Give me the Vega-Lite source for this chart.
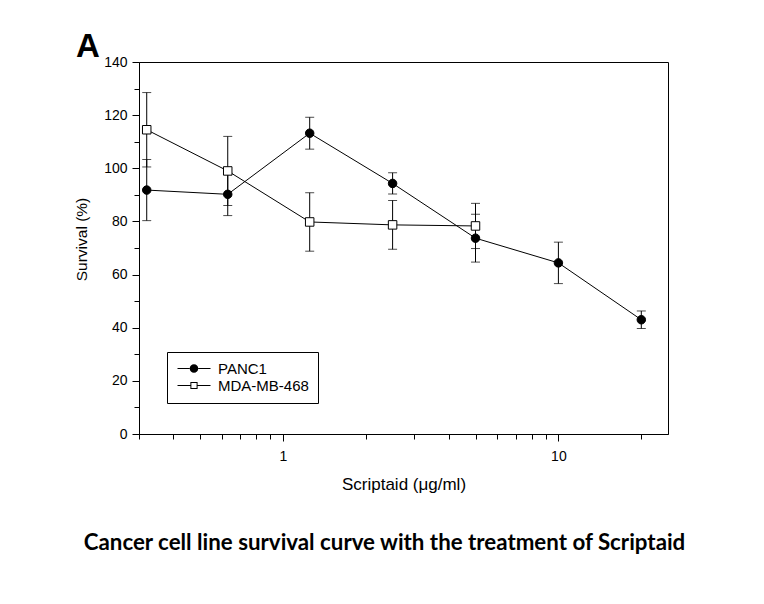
{
  "$schema": "https://vega.github.io/schema/vega-lite/v6.json",
  "width": 529,
  "height": 372,
  "autosize": {"type": "none"},
  "padding": {"left": 139, "top": 62, "right": 96, "bottom": 170},
  "background": "white",
  "title": {
    "text": "Cancer cell line survival curve with the treatment of Scriptaid",
    "orient": "bottom",
    "anchor": "middle",
    "font": "Lato",
    "fontSize": 22.3,
    "fontWeight": "bold",
    "color": "black",
    "offset": 40,
    "dx": -19
  },
  "data": {
    "values": [
      {"series": "PANC1", "conc": 0.32, "mean": 91.8, "err": 11.5},
      {"series": "PANC1", "conc": 0.63, "mean": 90.2, "err": 8},
      {"series": "PANC1", "conc": 1.25, "mean": 113.2, "err": 6},
      {"series": "PANC1", "conc": 2.5, "mean": 94.3, "err": 4},
      {"series": "PANC1", "conc": 5, "mean": 73.7, "err": 9},
      {"series": "PANC1", "conc": 10, "mean": 64.4, "err": 7.8},
      {"series": "PANC1", "conc": 20, "mean": 43, "err": 3.3},
      {"series": "MDA-MB-468", "conc": 0.32, "mean": 114.5, "err": 14},
      {"series": "MDA-MB-468", "conc": 0.63, "mean": 99, "err": 13},
      {"series": "MDA-MB-468", "conc": 1.25, "mean": 79.8, "err": 11},
      {"series": "MDA-MB-468", "conc": 2.5, "mean": 78.7, "err": 9.2},
      {"series": "MDA-MB-468", "conc": 5, "mean": 78.3, "err": 8.5}
    ]
  },
  "encoding": {
    "x": {
      "field": "conc",
      "type": "quantitative",
      "title": "Scriptaid (μg/ml)",
      "scale": {"type": "log", "domain": [0.3, 25], "nice": false},
      "axis": {
        "values": [0.3, 0.4, 0.5, 0.6, 0.7, 0.8, 0.9, 1, 2, 3, 4, 5, 6, 7, 8, 9, 10, 20],
        "labelExpr": "datum.value == 1 ? '1' : (datum.value == 10 ? '10' : '')",
        "tickSize": {"condition": {"test": "datum.value == 1 || datum.value == 10", "value": 7}, "value": 5},
        "labelPadding": 8,
        "titlePadding": 13,
        "titleFontSize": 17
      }
    },
    "y": {
      "field": "mean",
      "type": "quantitative",
      "title": "Survival (%)",
      "scale": {"domain": [0, 140], "nice": false},
      "axis": {
        "values": [0, 10, 20, 30, 40, 50, 60, 70, 80, 90, 100, 110, 120, 130, 140],
        "labelExpr": "datum.value % 20 == 0 ? datum.label : ''",
        "tickSize": {"condition": {"test": "datum.value % 20 == 0", "value": 7}, "value": 5},
        "labelPadding": 5,
        "titlePadding": 14,
        "titleFontSize": 15.5,
        "titleY": 177
      }
    }
  },
  "layer": [
    {
      "mark": {"type": "line", "color": "black", "strokeWidth": 1},
      "encoding": {"detail": {"field": "series"}}
    },
    {
      "mark": {
        "type": "errorbar",
        "ticks": {"size": 9, "color": "black", "strokeWidth": 1},
        "rule": {"color": "black", "strokeWidth": 1}
      },
      "encoding": {
        "yError": {"field": "err"},
        "detail": {"field": "series"}
      }
    },
    {
      "mark": {"type": "point", "filled": true, "opacity": 1, "stroke": "black", "strokeWidth": 1, "size": 72},
      "encoding": {
        "fill": {
          "field": "series",
          "type": "nominal",
          "scale": {"domain": ["PANC1", "MDA-MB-468"], "range": ["black", "white"]},
          "legend": null
        },
        "shape": {
          "field": "series",
          "type": "nominal",
          "scale": {"domain": ["PANC1", "MDA-MB-468"], "range": ["circle", "square"]},
          "legend": null
        }
      }
    },
    {
      "mark": {"type": "point", "filled": true, "opacity": 0, "stroke": "black", "strokeWidth": 1},
      "encoding": {
        "fill": {
          "field": "series",
          "type": "nominal",
          "scale": {"domain": ["PANC1", "MDA-MB-468"], "range": ["black", "white"]},
          "legend": null
        },
        "shape": {
          "field": "series",
          "type": "nominal",
          "scale": {
            "domain": ["PANC1", "MDA-MB-468"],
            "range": [
              "M-1.33,-0.11H1.42V0.11H-1.33Z M3.24,-0.11H6V0.11H3.24Z M1.38,0A0.95,0.95 0 1,0 3.28,0A0.95,0.95 0 1,0 1.38,0Z",
              "M-1.33,-0.11H1.53V0.11H-1.33Z M3.13,-0.11H6V0.11H3.13Z M1.53,-0.8H3.13V0.8H1.53Z M1.75,-0.58V0.58H2.91V-0.58Z"
            ]
          },
          "legend": {
            "title": null,
            "orient": "none",
            "legendX": 28,
            "legendY": 290,
            "strokeColor": "black",
            "fillColor": "white",
            "padding": 9,
            "labelFont": "Liberation Sans",
            "labelFontSize": 15,
            "labelColor": "black",
            "labelOffset": 27,
            "labelLimit": 300,
            "symbolSize": 81,
            "symbolOpacity": 1,
            "symbolFillColor": "black",
            "symbolStrokeWidth": 0,
            "rowPadding": 1,
            "cornerRadius": 0
          }
        }
      }
    },
    {
      "data": {"values": [{"label": "A", "conc": 0.3, "mean": 140}]},
      "mark": {
        "type": "text",
        "font": "Liberation Sans",
        "fontSize": 33,
        "fontWeight": "bold",
        "fill": "black",
        "align": "center",
        "baseline": "alphabetic",
        "dx": -51,
        "dy": -5,
        "clip": false
      },
      "encoding": {
        "text": {"field": "label", "type": "nominal"}
      }
    }
  ],
  "resolve": {"scale": {"shape": "independent"}, "legend": {"shape": "independent"}},
  "config": {
    "view": {"stroke": "black", "strokeWidth": 1},
    "axis": {
      "grid": false,
      "domainColor": "black",
      "tickColor": "black",
      "labelColor": "black",
      "titleColor": "black",
      "labelFont": "Liberation Sans",
      "labelFontSize": 14,
      "titleFont": "Liberation Sans",
      "titleFontSize": 16,
      "titleFontWeight": "normal",
      "labelFlush": false,
      "labelOverlap": false
    }
  }
}
